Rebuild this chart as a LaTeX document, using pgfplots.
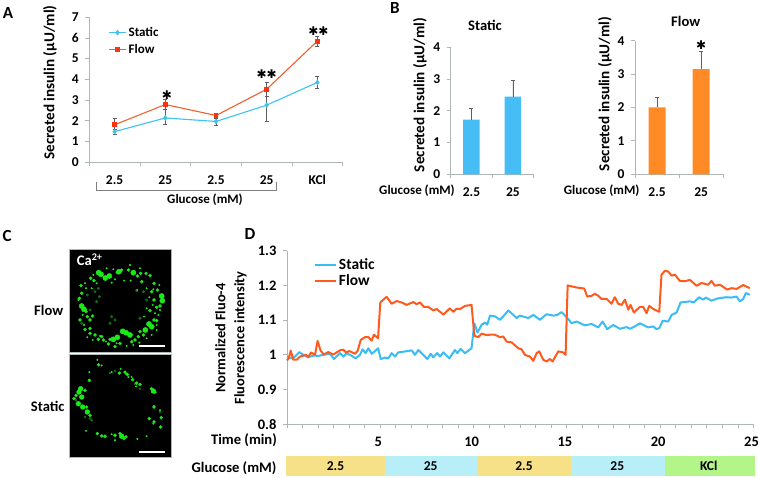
\documentclass[border=0pt]{standalone}
\usepackage{fontspec}
\setmainfont{Carlito}
\newfontfamily\starfont{DejaVu Sans}
\usepackage{pgfplots}
\usepackage{pgfplotstable}
\pgfplotsset{compat=1.18}
\definecolor{axisgray}{RGB}{175,182,182}
\definecolor{errgray}{RGB}{95,95,95}
\definecolor{statline}{RGB}{60,195,240}
\definecolor{flowline}{RGB}{240,95,45}
\definecolor{flowmark}{RGB}{250,50,15}
\definecolor{barblue}{RGB}{70,190,245}
\definecolor{barorange}{RGB}{255,138,38}
\definecolor{tracestat}{RGB}{60,188,245}
\definecolor{traceflow}{RGB}{255,90,30}
\definecolor{bandy}{RGB}{246,224,136}
\definecolor{bandb}{RGB}{184,238,248}
\definecolor{bandg}{RGB}{180,245,138}
\definecolor{cagreen}{RGB}{25,232,25}
\definecolor{cadim}{RGB}{20,110,20}

\pgfplotstableread{
t v
0.00 0.984
0.09 0.990
0.20 1.012
0.34 0.986
0.52 0.986
0.70 0.995
1.02 1.000
1.14 0.994
1.29 1.007
1.50 1.000
1.64 1.040
1.80 1.012
1.98 1.001
2.21 1.008
2.48 1.001
2.84 1.013
3.02 1.015
3.16 1.007
3.34 1.011
3.64 1.003
3.79 1.012
3.95 1.043
4.18 1.051
4.36 1.051
4.54 1.041
4.66 1.058
4.88 1.048
5.00 1.151
5.25 1.163
5.34 1.167
5.61 1.147
5.88 1.155
6.14 1.151
6.41 1.144
6.77 1.152
6.95 1.146
7.13 1.151
7.34 1.138
7.57 1.138
7.84 1.128
8.02 1.132
8.38 1.116
8.73 1.134
8.91 1.124
9.09 1.133
9.27 1.132
9.54 1.141
9.89 1.144
10.04 1.055
10.25 1.051
10.43 1.061
10.70 1.057
10.88 1.058
11.14 1.058
11.41 1.051
11.59 1.053
11.77 1.038
12.04 1.036
12.39 1.019
12.57 1.016
12.75 1.000
13.02 0.995
13.20 0.983
13.38 1.005
13.52 1.010
13.73 0.986
13.91 0.981
14.09 0.988
14.23 0.981
14.54 1.010
14.80 1.007
14.93 1.000
15.04 1.200
15.52 1.194
15.93 1.191
16.09 1.168
16.32 1.170
16.50 1.176
16.68 1.170
16.86 1.161
17.13 1.161
17.39 1.147
17.57 1.166
17.75 1.147
17.93 1.144
18.11 1.159
18.29 1.130
18.41 1.144
18.59 1.122
18.91 1.138
19.09 1.138
19.27 1.120
19.41 1.141
19.63 1.132
19.95 1.124
20.07 1.231
20.25 1.242
20.43 1.240
20.61 1.228
20.79 1.231
21.05 1.213
21.32 1.212
21.59 1.216
21.95 1.199
22.21 1.207
22.57 1.202
22.75 1.213
22.93 1.199
23.20 1.202
23.59 1.188
23.82 1.192
24.09 1.190
24.45 1.201
24.80 1.192
}\flowtrace

\pgfplotstableread{
t v
0.00 0.995
0.20 0.990
0.43 0.995
0.66 1.008
0.88 1.000
1.14 0.993
1.41 0.998
1.68 0.997
2.04 1.001
2.30 1.003
2.52 0.988
2.84 1.005
3.02 0.995
3.20 1.005
3.38 1.000
3.68 0.990
3.91 1.000
4.05 1.016
4.21 1.005
4.36 1.019
4.54 1.003
4.89 1.019
5.02 0.988
5.25 0.992
5.43 0.990
5.61 1.005
5.79 0.995
5.96 1.007
6.23 1.009
6.68 1.013
6.86 1.000
7.04 1.014
7.34 0.998
7.52 0.988
7.70 1.003
7.84 0.993
8.05 1.005
8.20 0.995
8.38 1.007
8.70 0.990
9.00 1.014
9.13 1.005
9.30 1.017
9.54 1.005
9.89 1.019
10.04 1.091
10.21 1.064
10.43 1.087
10.61 1.093
10.73 1.087
10.88 1.113
11.14 1.111
11.41 1.101
11.59 1.111
11.86 1.128
12.13 1.115
12.30 1.106
12.48 1.113
12.75 1.109
12.93 1.106
13.20 1.115
13.55 1.101
13.91 1.117
14.27 1.113
14.48 1.115
14.71 1.123
14.95 1.111
15.25 1.091
15.52 1.096
15.96 1.085
16.32 1.089
16.68 1.079
16.91 1.096
17.16 1.074
17.48 1.086
17.84 1.075
18.20 1.080
18.38 1.075
18.64 1.082
18.91 1.091
19.36 1.079
19.63 1.082
19.80 1.074
19.95 1.077
20.13 1.098
20.43 1.096
20.61 1.115
20.88 1.122
21.09 1.151
21.59 1.154
21.80 1.151
22.09 1.166
22.30 1.159
22.45 1.165
22.75 1.156
23.11 1.163
23.55 1.166
23.82 1.165
24.09 1.168
24.27 1.154
24.45 1.161
24.59 1.178
24.80 1.173
}\stattrace

\pgfplotsset{
  panel/.style={
    scale only axis, axis lines=left,
    axis line style={-,color=axisgray,line width=0.9pt},
    tick style={color=axisgray,line width=0.9pt},
    tick align=outside,
    major tick length=4pt, minor tick length=4pt,
    font=\fontsize{15.2}{17}\selectfont\bfseries,
    tick label style={font=\fontsize{13.5}{15}\selectfont\bfseries},
    yticklabel style={xshift=-3pt},
    /pgf/number format/assume math mode=true,
    clip=false,
  },
  micro/.style={scale only axis, xtick=\empty, ytick=\empty, y dir=reverse,
    axis line style={color=axisgray,line width=0.5pt},
    axis background/.style={fill=black}, width=102pt, height=103pt},
  error bars/error bar style={color=errgray,line width=0.7pt},
  error bars/error mark options={color=errgray,mark size=2pt,rotate=90,line width=0.6pt},
}
\tikzset{bigstar/.style={font=\fontsize{12}{12}\starfont\bfseries},
  lab/.style={font=\fontsize{13}{15}\selectfont\bfseries},
  labl/.style={font=\fontsize{14.6}{16}\selectfont\bfseries}}

\begin{document}
\begin{tikzpicture}[x=1pt,y=1pt]
\path[use as bounding box] (0,0) rectangle (758,478);

% panel letters
\node[font=\fontsize{17}{17}\selectfont\bfseries] at (8,465) {A};
\node[font=\fontsize{17}{17}\selectfont\bfseries] at (395,470) {B};
\node[font=\fontsize{17}{17}\selectfont\bfseries] at (7,242) {C};
\node[font=\fontsize{17}{17}\selectfont\bfseries] at (250,244) {D};

% A
\begin{axis}[panel, at={(89.3pt,316pt)}, width=253.4pt, height=144.7pt,
  xmin=-0.5, xmax=4.5, ymin=0, ymax=7, ytick={0,...,7},
  xtick={0,1,2,3,4}, xticklabels={2.5,25,2.5,25,KCl},
  minor xtick={-0.5,0.5,1.5,2.5,3.5,4.5},
  major x tick style={draw=none},
  xticklabel style={yshift=-6pt},
  ylabel={Secreted insulin (µU/ml)},
  every axis y label/.style={at={(axis description cs:-0.155,0.549)},rotate=90,anchor=center},
  legend style={draw=none,fill=none,at={(0.063,0.96)},anchor=north west,
    font=\fontsize{13}{15}\selectfont\bfseries,row sep=2pt},
  legend cell align=left]
\addplot[statline,line width=1.1pt,mark=diamond*,mark size=2pt,
  error bars/.cd,y dir=both,y explicit] coordinates {
  (0,1.47) += (0,0.13) -= (0,0.14)
  (1,2.13) += (0,0.40) -= (0,0.33)
  (2,1.96) += (0,0.15) -= (0,0.18)
  (3,2.75) += (0,0.43) -= (0,0.80)
  (4,3.85) += (0,0.30) -= (0,0.30)
};
\addplot[flowline,line width=1.1pt,mark=square*,mark size=1.9pt,mark options={flowmark},
  error bars/.cd,y dir=both,y explicit] coordinates {
  (0,1.80) += (0,0.30) -= (0,0.22)
  (1,2.78) += (0,0.25) -= (0,0.23)
  (2,2.25) += (0,0.06) -= (0,0.06)
  (3,3.52) += (0,0.33) -= (0,0.32)
  (4,5.85) += (0,0.25) -= (0,0.25)
};
\legend{Static,Flow}
\node[bigstar] at (axis cs:1.03,3.25) {✱};
\node[bigstar] at (axis cs:3,4.23) {✱✱};
\node[bigstar] at (axis cs:4.02,6.35) {✱✱};
\end{axis}
\draw[color=gray,line width=0.7pt] (96.5,296) -- (96.5,287.7) -- (276,287.7) -- (276,296);
\node[lab] at (205,278) {Glucose (mM)};

% B left
\begin{axis}[panel, at={(450.7pt,303.7pt)}, width=83pt, height=127pt,
  xmin=-0.5, xmax=1.5, ymin=0, ymax=4, ytick={0,...,4},
  xtick={0,1}, xticklabels={2.5,25},
  minor xtick={-0.5,0.5,1.5}, major x tick style={draw=none},
  xticklabel style={yshift=-6pt},
  ylabel={Secreted insulin (µU/ml)},
  every axis y label/.style={at={(axis description cs:-0.37,0.624)},rotate=90,anchor=center}]
\addplot[ybar,bar width=16.5pt,fill=barblue,draw=none,
  error bars/.cd,y dir=plus,y explicit] coordinates {
  (0,1.72) +- (0,0.35)
  (1,2.45) +- (0,0.52)
};
\end{axis}
\node[labl] at (485,452.3) {Static};
\node[lab] at (417,287) {Glucose (mM)};

% B right
\begin{axis}[panel, at={(635pt,303.7pt)}, width=88.3pt, height=133.6pt,
  xmin=-0.5, xmax=1.5, ymin=0, ymax=4, ytick={0,...,4},
  xtick={0,1}, xticklabels={2.5,25},
  minor xtick={-0.5,0.5,1.5}, major x tick style={draw=none},
  xticklabel style={yshift=-6pt},
  ylabel={Secreted insulin (µU/ml)},
  every axis y label/.style={at={(axis description cs:-0.34,0.60)},rotate=90,anchor=center}]
\addplot[ybar,bar width=17pt,fill=barorange,draw=none,
  error bars/.cd,y dir=plus,y explicit] coordinates {
  (0,2.00) +- (0,0.32)
  (1,3.15) +- (0,0.52)
};
\node[bigstar] at (axis cs:1,3.87) {✱};
\end{axis}
\node[labl] at (685.7,457) {Flow};
\node[lab] at (601.7,287) {Glucose (mM)};

% C, flow micrograph (spots read in pixel positions of the panel)
\begin{axis}[micro, at={(69pt,126pt)}, xmin=207, xmax=513, ymin=87, ymax=396]
\addplot[only marks,mark=*,mark size=1.3pt,color=cadim] coordinates {
 (295,205) (298,230) (290,245) (410,212) (335,290) (330,310) (345,300) (262,225)
 (285,215) (245,310) (420,295) (440,240) (430,215) (270,270)
};
\addplot[only marks,mark=*,mark size=0.8pt,color=cagreen] coordinates {
 (335,188) (345,178) (372,182) (392,182) (412,210) (440,205) (448,232) (478,195)
 (440,265) (432,290) (465,280) (458,255) (475,285) (470,330) (455,345) (440,355)
 (418,368) (400,375) (380,378) (350,370) (318,365) (300,348) (278,360) (262,352)
 (252,315) (248,285) (235,240) (258,205) (275,205) (290,190) (255,190) (420,145)
 (390,135) (340,148) (320,145) (280,165) (470,315) (480,270) (460,208)
};
\addplot[only marks,mark=*,mark size=1.5pt,color=cagreen] coordinates {
 (245,220) (238,235) (243,197) (272,175) (282,182) (352,158) (365,150) (385,150)
 (412,168) (422,160) (438,160) (450,167) (425,185) (462,190) (472,210) (455,215)
 (462,240) (470,262) (480,258) (450,272) (462,300) (470,302) (430,345) (415,350)
 (405,360) (395,365) (360,370) (345,380) (325,372) (310,360) (295,358) (285,345)
 (270,340) (255,328) (262,290) (258,275) (270,300) (278,288) (240,300) (305,350)
 (330,358) (270,325) (420,335)
};
\addplot[only marks,mark=*,mark size=2.6pt,color=cagreen] coordinates {
 (303,163) (316,174) (296,158) (400,158) (357,155) (378,338) (390,345) (368,334)
 (447,312) (455,320) (436,330) (485,228) (487,242) (245,258) (252,268) (340,358)
 (352,352) (328,168)
};
\addplot[white,line width=2pt] coordinates {(418,378) (495,378)};
\node[white,anchor=west,labl] at (axis cs:220,120) {Ca\textsuperscript{2+}};
\end{axis}
\node[labl] at (48.7,167.3) {Flow};

% C, static micrograph
\begin{axis}[micro, at={(69pt,20.5pt)}, xmin=207, xmax=513, ymin=402, ymax=712]
\addplot[only marks,mark=*,mark size=1.1pt,color=cadim] coordinates {
 (330,458) (345,452) (420,505) (270,595) (275,600) (405,490) (228,540) (255,590) (480,575)
};
\addplot[only marks,mark=*,mark size=0.8pt,color=cagreen] coordinates {
 (268,455) (270,480) (292,418) (305,435) (335,455) (362,445) (395,470) (408,498)
 (452,505) (462,558) (447,595) (480,570) (258,632) (292,640) (345,660) (412,656)
 (440,648) (460,610) (335,642) (378,460) (385,470)
};
\addplot[only marks,mark=*,mark size=1.5pt,color=cagreen] coordinates {
 (296,433) (358,458) (375,455) (382,462) (398,478) (410,488) (420,492) (455,505)
 (465,515) (462,560) (448,595) (484,592) (482,620) (462,605) (268,480) (292,640)
 (305,647) (315,648) (345,645) (360,640) (372,655) (378,650) (228,525) (255,510)
 (222,535) (260,560) (270,585)
};
\addplot[only marks,mark=*,mark size=2.4pt,color=cagreen] coordinates {
 (237,515) (245,530) (235,550) (248,560) (262,575) (242,505) (460,512) (365,648)
};
\addplot[white,line width=2pt] coordinates {(418,695) (495,695)};
\end{axis}
\node[labl] at (47.7,72) {Static};

% D
\begin{axis}[panel, at={(287pt,53.7pt)}, width=466.5pt, height=173.6pt,
  xmin=0, xmax=25, ymin=0.8, ymax=1.3,
  ytick={0.8,0.9,1,1.1,1.2,1.3},
  yticklabels={0.8,0.9,1,1.1,1.2,1.3},
  xtick={0,5,10,15,20,25}, xticklabels={,5,10,15,20,25},
  minor x tick num=5,
  tick label style={font=\fontsize{14.5}{16}\selectfont\bfseries},
  xticklabel style={yshift=-5pt,xshift=-2pt},
  legend style={draw=none,fill=none,at={(0.051,0.98)},anchor=north west,
    font=\fontsize{15.5}{17}\selectfont\bfseries,row sep=0pt},
  legend image code/.code={\draw[#1] (0pt,0pt) -- (21pt,0pt);},
  legend cell align=left]
\addplot[tracestat,line width=2pt,line join=round] table[x=t,y=v] {\stattrace};
\addplot[traceflow,line width=2pt,line join=round] table[x=t,y=v] {\flowtrace};
\legend{Static,Flow}
\end{axis}
\node[font=\fontsize{14.4}{19}\selectfont\bfseries,align=center,rotate=90] at (231,140)
  {Normalized Fluo-4\\Fluorescence intensity};
\node[labl] at (244,38) {Time (min)};
\node[labl,anchor=east] at (280,10) {Glucose (mM)};

% D, glucose conditions strip
\begin{axis}[scale only axis, hide axis, at={(286pt,2pt)}, width=469pt, height=20pt,
  xmin=-0.05, xmax=25.08, ymin=0, ymax=1, clip=false]
\addplot[fill=bandy,draw=none] coordinates {(-0.05,0) (5.24,0) (5.24,1) (-0.05,1)} --cycle;
\addplot[fill=bandb,draw=none] coordinates {(5.24,0) (10.17,0) (10.17,1) (5.24,1)} --cycle;
\addplot[fill=bandy,draw=none] coordinates {(10.17,0) (15.2,0) (15.2,1) (10.17,1)} --cycle;
\addplot[fill=bandb,draw=none] coordinates {(15.2,0) (20.25,0) (20.25,1) (15.2,1)} --cycle;
\addplot[fill=bandg,draw=none] coordinates {(20.25,0) (25.08,0) (25.08,1) (20.25,1)} --cycle;
\node[font=\fontsize{13.5}{15}\selectfont\bfseries] at (axis cs:2.6,0.5) {2.5};
\node[font=\fontsize{13.5}{15}\selectfont\bfseries] at (axis cs:7.7,0.5) {25};
\node[font=\fontsize{13.5}{15}\selectfont\bfseries] at (axis cs:12.7,0.5) {2.5};
\node[font=\fontsize{13.5}{15}\selectfont\bfseries] at (axis cs:17.7,0.5) {25};
\node[font=\fontsize{13.5}{15}\selectfont\bfseries] at (axis cs:22.6,0.5) {KCl};
\end{axis}
\end{tikzpicture}
\end{document}
